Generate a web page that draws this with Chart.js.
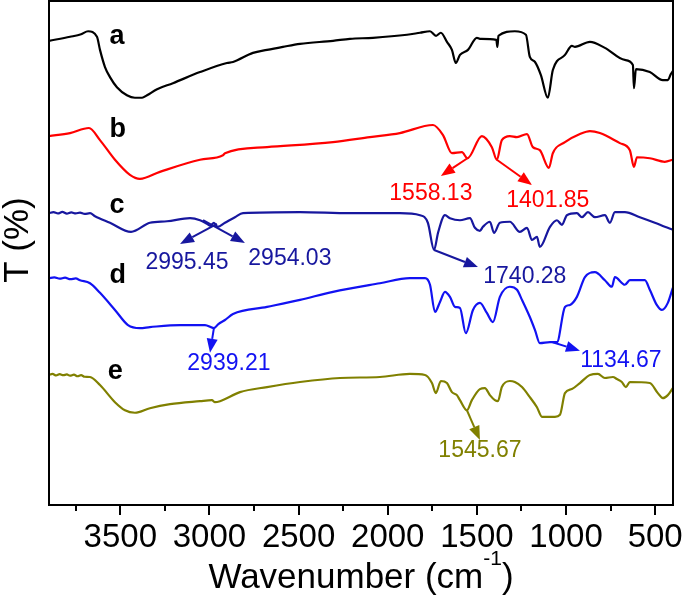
<!DOCTYPE html>
<html>
<head>
<meta charset="utf-8">
<title>FTIR spectra a-e</title>
<script src="https://cdn.jsdelivr.net/npm/chart.js@4.4.1/dist/chart.umd.min.js"></script>
<style>
  body { margin: 0; background: #fff; }
  canvas { display: block; }
</style>
</head>
<body>
<canvas id="myChart" width="685" height="603"></canvas>
<script>
const FONT = "'Liberation Sans', Arial, sans-serif";

// wavenumber (cm-1) and stacked transmittance (arbitrary 0-100)
const aWn = [3900,3782,3720,3681,3631,3614,3586,3558,3519,3463,3418,3378,3350,3294,3205,3053,2902,2868,2756,2677,2588,2492,2307,2212,2083,1892,1819,1763,1729,1702,1668,1640,1618,1595,1550,1500,1483,1391,1385,1379,1287,1225,1203,1174,1141,1102,1074,1006,967,950,866,782,670,625,619,608,530,457,429,412,401];
const aT = [92.1,92.9,93.4,94.0,92.9,90.3,86.9,84.9,82.9,81.3,80.8,80.8,81.3,82.5,83.7,85.9,87.7,87.9,89.7,90.3,90.9,91.5,92.1,92.5,92.7,93.3,93.7,94.0,93.1,93.7,91.9,90.3,87.7,89.3,90.3,92.7,92.5,92.3,90.9,93.1,94.0,93.3,88.9,87.9,85.3,80.8,86.3,89.3,91.1,90.9,91.9,90.7,88.3,87.3,82.7,86.5,85.9,84.3,84.3,85.5,86.1];

const bWn = [3900,3782,3676,3614,3530,3446,3390,3278,3053,2924,2913,2677,2307,2100,1932,1746,1690,1640,1584,1553,1472,1416,1388,1360,1315,1275,1219,1186,1147,1096,1074,1006,922,866,810,698,642,619,602,530,446,401];
const bT = [73.2,73.8,74.8,72.4,68.5,65.5,64.7,66.1,68.5,69.4,69.8,71.0,72.0,73.0,73.8,75.4,73.4,69.8,70.0,68.8,73.2,71.0,68.5,72.4,73.2,73.0,73.6,71.0,70.4,66.9,69.8,72.0,73.6,74.2,73.8,71.8,70.4,67.1,69.0,68.8,68.1,68.5];

const cWn = [3900,3875,3850,3825,3800,3775,3750,3726,3700,3670,3642,3558,3440,3334,3238,3109,3053,3014,2995,2975,2954,2913,2857,2812,2492,2212,1932,1819,1775,1740,1718,1679,1651,1595,1539,1511,1483,1466,1427,1404,1371,1315,1259,1219,1191,1163,1147,1090,1051,1023,995,939,911,877,838,782,754,726,670,586,502,446,401];
const cT = [57.9,58.1,57.85,58.15,57.8,58.05,57.85,58.0,57.75,57.9,57.3,56.0,54.2,56.0,56.3,56.9,56.5,55.8,55.4,56.0,55.2,56.0,57.1,57.9,58.1,57.9,57.9,57.5,56.0,50.6,54.0,57.5,56.9,56.5,56.9,55.0,54.4,55.2,56.2,54.0,56.0,56.2,54.2,55.0,52.6,53.2,51.2,55.2,56.5,55.6,57.5,57.9,57.1,58.1,57.1,57.5,56.0,58.1,58.1,57.1,56.0,55.2,54.6];

const dWn = [3900,3870,3840,3810,3780,3750,3726,3670,3614,3530,3457,3390,3334,3165,3025,2975,2950,2913,2868,2677,2492,2307,2044,1876,1791,1763,1735,1707,1679,1651,1623,1595,1562,1522,1483,1444,1410,1371,1315,1275,1247,1203,1174,1147,1090,1051,1006,978,939,894,838,782,743,726,670,642,558,530,491,462,429,401];
const dT = [45.0,45.15,44.9,45.1,44.8,44.95,44.6,44.0,42.1,38.7,35.7,35.1,35.3,35.7,35.7,35.1,35.9,36.7,37.9,39.3,40.7,42.3,44.0,45.0,45.0,43.7,38.3,40.3,42.3,41.3,39.3,39.1,34.1,38.7,40.1,38.1,36.3,41.3,43.3,42.7,40.7,37.3,34.7,32.1,32.3,32.3,39.3,39.7,41.3,45.2,46.2,44.6,43.3,45.2,43.7,44.6,44.6,42.7,39.7,38.7,40.1,43.1];

const eWn = [3900,3880,3860,3840,3820,3800,3782,3760,3740,3720,3700,3670,3614,3530,3474,3418,3334,3221,3053,2986,2969,2941,2829,2677,2492,2268,2044,1876,1791,1752,1730,1702,1668,1640,1612,1595,1556,1528,1483,1455,1427,1399,1382,1360,1315,1287,1247,1203,1163,1135,1062,1034,1006,967,922,866,821,782,737,715,687,664,642,530,485,457,429,401];
const eT = [25.8,26.0,25.7,25.95,25.75,25.9,25.65,25.85,25.55,25.75,25.45,25.4,23.8,20.4,18.8,18.3,19.2,20.0,20.6,20.8,20.4,20.6,22.4,23.4,24.4,25.2,25.4,26.0,25.8,24.2,22.2,24.6,24.2,22.4,21.8,20.8,18.8,20.8,23.0,23.2,21.8,20.8,20.6,23.4,24.6,24.4,23.4,21.4,19.4,17.5,17.5,17.9,22.2,23.0,24.2,25.8,26.0,25.2,25.4,25.0,24.4,23.4,24.4,24.2,22.2,21.2,21.8,23.2];

const names = ["a", "b", "c", "d", "e"];
const colors = ["#000000", "#ff0000", "#17179e", "#1212f2", "#808000"];
const xTicks = [3500, 3000, 2500, 2000, 1500, 1000, 500];
const xMinor = [3750, 3250, 2750, 2250, 1750, 1250, 750];

// letter of each trace: [wavenumber, T]
const letterAt = [[3560, 91.5], [3560, 73.0], [3560, 57.9], [3560, 44.0], [3570, 25.0]];

// peak call-outs: series index, text, arrow start, arrow tip, text spot (all [wavenumber, T])
const peaks = [
  { s: 1, text: "1558.13", from: [1553, 68.8], to: [1702, 65.3], at: [1758, 60.5] },
  { s: 1, text: "1401.85", from: [1388, 68.5], to: [1191, 63.5], at: [1102, 59.1] },
  { s: 2, text: "2995.45", from: [2958, 55.8], to: [3165, 51.8], at: [3126, 46.8] },
  { s: 2, text: "2954.03", from: [3036, 56.5], to: [2801, 52.0], at: [2549, 47.6] },
  { s: 2, text: "1740.28", from: [1740, 50.6], to: [1494, 47.2], at: [1231, 44.0] },
  { s: 3, text: "2939.21", from: [2975, 35.1], to: [2997, 30.2], at: [2891, 26.8] },
  { s: 3, text: "1134.67", from: [1075, 32.3], to: [922, 30.6], at: [692, 27.4] },
  { s: 4, text: "1545.67", from: [1556, 18.8], to: [1483, 12.9], at: [1483, 9.5] }
];

const seriesWn = [aWn, bWn, cWn, dWn, eWn];
const seriesT = [aT, bT, cT, dT, eT];

const decorations = {
  id: "decorations",
  afterDraw(chart) {
    const { ctx, chartArea: area, scales: { x, y } } = chart;
    ctx.save();

    // frame and bottom ticks
    ctx.strokeStyle = "#000";
    ctx.lineWidth = 2;
    ctx.strokeRect(area.left, area.top, area.right - area.left, area.bottom - area.top);
    const tick = (v, len) => {
      const px = Math.round(x.getPixelForValue(v));
      ctx.beginPath();
      ctx.moveTo(px, area.bottom);
      ctx.lineTo(px, area.bottom + len);
      ctx.stroke();
    };
    xTicks.forEach(v => tick(v, 10));
    xMinor.forEach(v => tick(v, 6));

    // axis titles
    ctx.fillStyle = "#000";
    ctx.textBaseline = "alphabetic";
    const big = "35px " + FONT, sup = "21px " + FONT;
    ctx.font = big;
    const w1 = ctx.measureText("Wavenumber (cm").width;
    const w3 = ctx.measureText(")").width;
    ctx.font = sup;
    const w2 = ctx.measureText("-1").width;
    let tx = (area.left + area.right) / 2 - (w1 + w2 + w3) / 2;
    const ty = 588;
    ctx.textAlign = "left";
    ctx.font = big;
    ctx.fillText("Wavenumber (cm", tx, ty);
    ctx.font = sup;
    ctx.fillText("-1", tx + w1, ty - 23);
    ctx.font = big;
    ctx.fillText(")", tx + w1 + w2, ty);

    ctx.save();
    ctx.translate(28, 240);
    ctx.rotate(-Math.PI / 2);
    ctx.textAlign = "center";
    ctx.fillText("T (%)", 0, 0);
    ctx.restore();

    // trace letters
    ctx.font = "bold 27px " + FONT;
    ctx.textAlign = "left";
    letterAt.forEach((p, i) => {
      ctx.fillText(names[i], x.getPixelForValue(p[0]), y.getPixelForValue(p[1]));
    });

    // peak call-outs
    ctx.font = "23px " + FONT;
    ctx.textAlign = "center";
    peaks.forEach(p => {
      const c = colors[p.s];
      const x0 = x.getPixelForValue(p.from[0]), y0 = y.getPixelForValue(p.from[1]);
      const x1 = x.getPixelForValue(p.to[0]), y1 = y.getPixelForValue(p.to[1]);
      const ang = Math.atan2(y1 - y0, x1 - x0);
      const hl = 14, hw = 5.5;
      const bx = x1 - hl * Math.cos(ang), by = y1 - hl * Math.sin(ang);
      ctx.strokeStyle = c;
      ctx.fillStyle = c;
      ctx.lineWidth = 2;
      ctx.beginPath();
      ctx.moveTo(x0, y0);
      ctx.lineTo(bx, by);
      ctx.stroke();
      ctx.beginPath();
      ctx.moveTo(x1, y1);
      ctx.lineTo(bx + hw * Math.sin(ang), by - hw * Math.cos(ang));
      ctx.lineTo(bx - hw * Math.sin(ang), by + hw * Math.cos(ang));
      ctx.closePath();
      ctx.fill();
      ctx.fillText(p.text, x.getPixelForValue(p.at[0]), y.getPixelForValue(p.at[1]));
    });

    ctx.restore();
  }
};

const ctx = document.getElementById("myChart").getContext("2d");
const myChart = new Chart(ctx, {
  type: "line",
  data: {
    datasets: names.map((n, i) => ({
      label: n,
      data: seriesWn[i].map((w, k) => ({ x: w, y: seriesT[i][k] })),
      borderColor: colors[i],
      borderWidth: 2.2,
      borderJoinStyle: "round",
      pointRadius: 0,
      cubicInterpolationMode: "monotone",
      fill: false
    }))
  },
  options: {
    responsive: false,
    animation: false,
    devicePixelRatio: 1,
    layout: { padding: { left: 49, right: 12, top: 1, bottom: 0 } },
    plugins: { legend: { display: false }, tooltip: { enabled: false } },
    scales: {
      x: {
        type: "linear",
        reverse: true,
        min: 400,
        max: 3900,
        grid: { display: false },
        border: { display: false },
        afterBuildTicks: s => { s.ticks = xTicks.map(v => ({ value: v })); },
        afterFit: s => {
          s.height = 98;
          s.paddingLeft = 0;
          s.paddingRight = 0;
        },
        ticks: {
          autoSkip: false,
          maxRotation: 0,
          padding: 5,
          color: "#000",
          font: { family: FONT, size: 33 },
          callback: v => String(v)
        }
      },
      y: {
        display: false,
        min: 0,
        max: 100
      }
    }
  },
  plugins: [decorations]
});
</script>
</body>
</html>
